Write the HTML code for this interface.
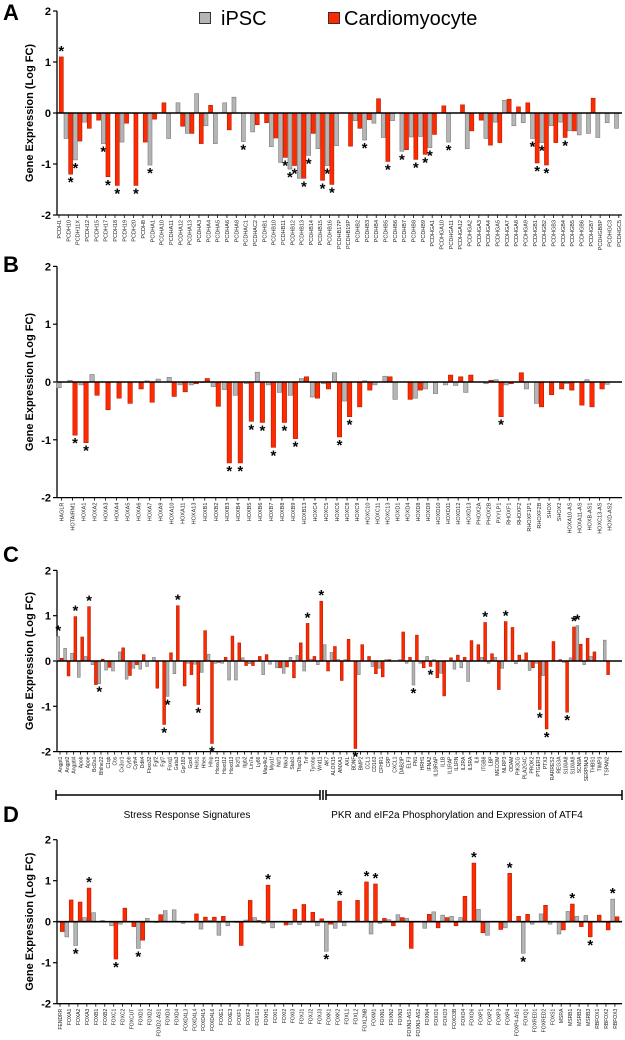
<!DOCTYPE html>
<html><head><meta charset="utf-8"><style>
html,body{margin:0;padding:0;background:#fff;width:625px;height:1040px;overflow:hidden}
svg{display:block;font-family:"Liberation Sans",sans-serif}
</style></head><body>
<svg id="fig" width="625" height="1040" viewBox="0 0 625 1040" xmlns="http://www.w3.org/2000/svg">
<g>
<rect x="199.5" y="12.5" width="11" height="11" fill="#b5b5b5" stroke="#333" stroke-width="1"/>
<text x="221" y="25" font-size="20">iPSC</text>
<rect x="328.5" y="12.5" width="11" height="11" fill="#ff2a00" stroke="#333" stroke-width="1"/>
<text x="344" y="25" font-size="20">Cardiomyocyte</text>
</g>
<g stroke="#000" stroke-width="1.5">
<line x1="56" y1="795" x2="320" y2="795"/><line x1="326" y1="795" x2="622" y2="795"/>
<line x1="56" y1="790" x2="56" y2="800"/><line x1="622" y1="790" x2="622" y2="800"/>
<line x1="320" y1="790" x2="320" y2="800"/><line x1="323" y1="790" x2="323" y2="800"/><line x1="326" y1="790" x2="326" y2="800"/>
</g>
<text x="187" y="818" font-size="10" text-anchor="middle">Stress Response Signatures</text>
<text x="457" y="818" font-size="10" text-anchor="middle">PKR and eIF2a Phosphorylation and Expression of ATF4</text>
</svg>
<script>
// ---------- Panel A ----------
const aCategories=["PCDH1","PCDH10","PCDH11X","PCDH12","PCDH15","PCDH17","PCDH18","PCDH19","PCDH20","PCDH8","PCDHA1","PCDHA10","PCDHA11","PCDHA12","PCDHA13","PCDHA3","PCDHA4","PCDHA5","PCDHA6","PCDHA8","PCDHAC1","PCDHAC2","PCDHB1","PCDHB10","PCDHB11","PCDHB12","PCDHB13","PCDHB14","PCDHB15","PCDHB16","PCDHB17P","PCDHB19P","PCDHB2","PCDHB3","PCDHB4","PCDHB5","PCDHB6","PCDHB7","PCDHB8","PCDHB9","PCDHGA1","PCDHGA10","PCDHGA11","PCDHGA12","PCDHGA2","PCDHGA3","PCDHGA4","PCDHGA5","PCDHGA7","PCDHGA8","PCDHGA9","PCDHGB1","PCDHGB2","PCDHGB3","PCDHGB4","PCDHGB5","PCDHGB6","PCDHGB7","PCDHGB8P","PCDHGC3","PCDHGC5"];
const aIpsc=[0,-0.5,-0.92,-0.18,0,-0.6,0,-0.57,0,0,-1.02,0,-0.5,0.2,-0.4,0.38,-0.25,-0.6,0.2,0.31,-0.56,-0.37,0,-0.66,-0.97,-1.1,-1.28,-0.83,-0.7,-1.03,-0.64,0,-0.15,-0.53,-0.2,-0.48,-0.15,-0.75,-0.47,-0.46,-0.68,0,-0.57,0,-0.7,0,-0.5,-0.18,0.25,-0.25,-0.19,-0.5,-0.58,-0.25,-0.18,-0.35,-0.43,-0.4,-0.48,-0.19,-0.3];
const aCardio=[1.1,-1.2,-0.55,-0.3,-0.14,-1.25,-1.42,-0.2,-1.42,-0.57,-0.12,0.2,0,-0.26,-0.4,-0.6,0.15,0,-0.33,0,0,-0.23,-0.19,-0.49,-0.87,-1.03,-1.28,-0.4,-1.32,-1.4,0,-0.65,-0.3,-0.13,0.28,-0.95,0,-0.72,-0.91,-0.81,-0.42,0.14,0,0.16,-0.35,-0.14,-0.63,-0.58,0.27,0.12,0.2,-0.98,-1.02,-0.58,-0.48,-0.35,0,0.29,0,0,0];
const aIpscStars=[2,5,10,20,25,27,29,33,37,40,42,51,52];
const aCardioStars=[0,1,5,6,8,24,25,26,28,29,35,38,39,51,52,54];
// ---------- Panel B ----------
const bCategories=["HAGLR","HOTAIRM1","HOXA1","HOXA2","HOXA3","HOXA4","HOXA5","HOXA6","HOXA7","HOXA9","HOXA10","HOXA11","HOXA13","HOXB1","HOXB2","HOXB3","HOXB4","HOXB5","HOXB6","HOXB7","HOXB8","HOXB9","HOXB13","HOXC4","HOXC5","HOXC6","HOXC8","HOXC9","HOXC10","HOXC11","HOXC13","HOXD1","HOXD4","HOXD8","HOXD9","HOXD10","HOXD11","HOXD12","HOXD13","PHOX2A","PHOX2B","PXYLP1","RHOXF1","RHOXF2","RHOXF1P1","RHOXF2B","SHOX","SHOX2","HOXA10-AS","HOXA11-AS","HOXB-AS1","HOXC13-AS","HOXD-AS2"];
const bIpsc=[-0.1,0.03,-0.05,0.13,0,0,0,0,0.02,0.05,0.08,-0.05,-0.05,-0.01,-0.08,-0.13,-0.23,-0.03,0.17,-0.05,-0.18,-0.23,0.06,-0.26,-0.03,0.16,-0.33,0,0.02,-0.05,0.1,-0.3,0,-0.28,-0.12,-0.2,-0.05,-0.06,-0.18,0,-0.03,0.04,-0.05,0,-0.12,-0.37,0,0,-0.03,0,0.04,0,-0.04];
const bCardio=[0,-0.92,-1.05,-0.23,-0.48,-0.28,-0.37,-0.12,-0.35,0,-0.25,-0.17,-0.03,0.06,-0.42,-1.4,-1.4,-0.68,-0.7,-1.13,-0.7,-0.98,0.09,-0.28,-0.12,-0.95,-0.6,-0.43,-0.14,0,0.09,0,-0.3,-0.14,0,0,0.12,0.09,0.12,0,0.03,-0.6,-0.03,0.16,0,-0.43,-0.22,-0.12,-0.14,-0.4,-0.43,-0.12,0];
const bIpscStars=[];
const bCardioStars=[1,2,15,16,17,18,19,20,21,25,26,41];
// ---------- Panel C ----------
const cCategories=["Angpt1","Angpt2","Angptl4","Apob","Apoe","Bcl2a1","Bhlhe22","C1qb","Cbs","Cx3cr1","Cybb","Cyth4","Ddit4","Fbxo32","Fgf2","Fgf7","Foxq1","Gata3","Gpr183","Gpx6","Hcls1","Hhex","Hhip","Hoxa13","Hoxd12","Hoxd13","Ikzf1","Itgb2","Lin7a","Ly86","Map4k2","Myo1f","Ncf1","Nkx3","Stab1","Tfap2b","Tnf","Tyrobp","Wnt11","AK7","ALOX15","ANXA1","AXL","BDNF","BMP2","CCL1","CD163","CFHR1","CRP","CXCL1","DAB2IP","ELF3","FN1","HRH1","IFNA2","IL18RAP","IL1B","IL1RAP","IL1RN","IL2RA","IL5RA","IL6","ITGB8","LBP","MECOM","NLRP3","ODAM","PIK3CG","PLA2G4C","PROK2","PTGER3","PTX3","RARRES2","REG3A","S100A8","S100A9","SCN9A","SERPINA3","THBS1","TIMP3","TSPAN2"];
const cIpsc=[0.54,0.28,0.17,-0.36,0.1,-0.08,-0.5,-0.2,-0.22,0.2,-0.4,-0.16,-0.18,-0.12,0.08,0,-0.78,-0.28,0,-0.05,-0.07,-0.25,0.15,-0.05,-0.05,-0.42,-0.42,0.07,-0.06,0,-0.3,-0.07,-0.15,-0.27,0.08,0.12,-0.22,0.04,-0.08,0.36,0.19,0.03,0.03,0,-0.3,0,-0.12,-0.16,0.03,0,0.03,-0.05,-0.53,-0.05,0.1,0.03,-0.27,0,-0.18,-0.15,-0.45,0,0.08,-0.05,0.08,-0.16,0,-0.06,0.03,-0.21,-0.05,-0.32,0,0,-0.03,0.07,0.78,-0.08,0.1,0,0.46];
const cCardio=[0.06,-0.33,0.98,0.53,1.2,-0.52,0.04,-0.14,0,0.29,-0.32,-0.08,0.14,0,-0.6,-1.4,0.18,1.22,-0.55,-0.3,-0.96,0.67,-1.82,-0.03,0.08,0.55,0.4,-0.1,-0.1,0.1,0.14,0,-0.15,-0.13,-0.37,0.4,0.83,0.1,1.32,-0.22,0.32,-0.43,0.48,-1.93,0.36,0.1,-0.28,-0.35,0.03,0,0.64,0.08,0.57,-0.15,-0.12,-0.37,-0.77,0.07,0.13,0.08,0.45,0.36,0.85,0.16,-0.63,0.87,0.74,0.13,0.18,-0.15,-1.07,-1.5,0.43,0.03,-1.13,0.75,0.37,0.5,0.2,0,-0.3];
const cIpscStars=[0,6,16,52,76];
const cCardioStars=[2,4,15,17,20,22,36,38,43,54,62,65,70,71,74,75];
// ---------- Panel D ----------
const dCategories=["FENDRR","FOXA1","FOXA2","FOXA3","FOXB1","FOXB2","FOXC1","FOXC2","FOXCUT","FOXD1","FOXD2","FOXD2-AS1","FOXD3","FOXD4","FOXD4L3","FOXD4L4","FOXD4L5","FOXD4L6","FOXE1","FOXE3","FOXF1","FOXF2","FOXG1","FOXH1","FOXI1","FOXI2","FOXI3","FOXJ1","FOXJ2","FOXJ3","FOXK1","FOXK2","FOXL1","FOXL2","FOXL2NB","FOXM1","FOXN1","FOXN2","FOXN3","FOXN3-AS1","FOXN3-AS2","FOXN4","FOXO1","FOXO3","FOXO3B","FOXO4","FOXO6","FOXP1","FOXP2","FOXP3","FOXP4","FOXP4-AS1","FOXQ1","FOXRED1","FOXRED2","FOXS1","MSRA","MSRB1","MSRB2","MSRB3","RBFOX1","RBFOX2","RBFOX3"];
const dIpsc=[0,-0.37,-0.58,0.1,0.22,0.03,-0.1,-0.06,0,-0.65,0.08,-0.02,0.27,0.29,-0.04,0,-0.18,0.03,-0.33,-0.1,-0.02,0.04,0.1,-0.04,-0.15,0,-0.07,-0.07,0,-0.1,-0.72,-0.16,-0.1,0,0,-0.3,-0.04,0.05,0.17,0.08,0,-0.16,0.24,0.16,0.13,0.1,0,0.3,-0.33,0,-0.15,0,-0.77,-0.06,0.19,-0.06,-0.3,0.25,0.13,0.15,0,0,0.55];
const dCardio=[-0.24,0.53,0.48,0.82,0,0,-0.91,0.33,-0.12,-0.45,0,0.17,0,0,0,0.19,0.11,0.11,0.13,0,-0.58,0.52,0.03,0.89,0,-0.08,0.3,0.42,0.23,0.07,-0.06,0.5,0,0.52,0.97,0.92,0.08,-0.1,0.1,-0.65,0,0.18,-0.15,0.1,-0.1,0.62,1.43,-0.27,0,-0.19,1.18,0.13,0.18,0,0.4,0,-0.2,0.43,-0.12,-0.37,0.16,-0.2,0.12];
const dIpscStars=[2,9,30,52,62];
const dCardioStars=[3,6,23,31,34,35,46,50,57,59];
const yTicks=[2,1,0,-1,-2];

const NS="http://www.w3.org/2000/svg";
const svg=document.getElementById('fig');
function mk(tag,attrs,parent){const e=document.createElementNS(NS,tag);for(const k in attrs)e.setAttribute(k,attrs[k]);(parent||svg).appendChild(e);return e;}

function drawPanel(p){
  const g=mk('g',{});
  
  
  const y=v=>p.zero-v*p.unit;
  const x0=57, x1=622;
  const letter=mk('text',{x:3,y:p.letterY,'font-size':22,'font-weight':'bold'},g);
  letter.textContent=p.id.toUpperCase();
  
  
  const title=mk('text',{x:0,y:0,'font-size':11,'font-weight':'bold','text-anchor':'middle',transform:`translate(33,${p.zero}) rotate(-90)`},g);
  title.textContent='Gene Expression (Log FC)';
  
  
  const yaxis=mk('line',{x1:x0,y1:y(2),x2:x0,y2:y(-2),stroke:'#000','stroke-width':1.3},g);
  
  
  yTicks.forEach(t=>{
    mk('line',{x1:x0-4,y1:y(t),x2:x0,y2:y(t),stroke:'#000','stroke-width':1.2},g);
    const tl=mk('text',{x:x0-6,y:y(t)+4,'font-size':11,'font-weight':'bold','text-anchor':'end'},g);
    tl.textContent=String(t);
    
    
  });
  const xaxis=mk('line',{x1:x0,y1:y(-2),x2:x1,y2:y(-2),stroke:'#000','stroke-width':1.3},g);
  
  
  const bw=p.bw;
  p.cats.forEach((c,i)=>{
    const cx=p.x(i);
    mk('line',{x1:cx,y1:y(-2),x2:cx,y2:y(-2)+3,stroke:'#000','stroke-width':0.8},g);
    const lab=mk('text',{x:0,y:0,'font-size':p.labSize,'text-anchor':'end',fill:'#222',transform:`translate(${cx+2},${y(-2)+5}) rotate(-90)`},g);
    lab.textContent=c;
    
    
    [[p.ipsc[i],-1,'#b5b5b5','#7a7a7a','ipsc',p.ipscStars],[p.cardio[i],1,'#ff2a00','#b81a00','cardiomyocyte',p.cardioStars]].forEach(s=>{
      const v=s[0]; if(!v) return;
      const bx=s[1]<0?cx-bw:cx;
      const top=Math.min(y(v),p.zero), h=Math.abs(y(v)-p.zero);
      const r=mk('rect',{x:bx+0.3,y:top,width:bw-0.6,height:h,fill:s[2],stroke:s[3],'stroke-width':0.6},g);
      
      
      if(s[5].indexOf(i)>=0){
        const st=mk('text',{x:bx+bw/2,y:v<0?y(v)+13:y(v)-1,'font-size':15,'font-weight':'bold','text-anchor':'middle'},g);
        st.textContent='*';
        
        
      }
    });
  });
  const zl=mk('line',{x1:x0,y1:p.zero,x2:x1,y2:p.zero,stroke:'#000','stroke-width':1.6},g);
  
  
}
drawPanel({id:'a',cats:aCategories,ipsc:aIpsc,cardio:aCardio,ipscStars:aIpscStars,cardioStars:aCardioStars,zero:113,unit:51,letterY:20,bw:4.6,labSize:5.5,x:i=>59+i*9.33});
drawPanel({id:'b',cats:bCategories,ipsc:bIpsc,cardio:bCardio,ipscStars:bIpscStars,cardioStars:bCardioStars,zero:382,unit:57.8,letterY:272,bw:5,labSize:5.5,x:i=>i<=25?61.5+i*11.02:337+(i-25)*10.1});
drawPanel({id:'c',cats:cCategories,ipsc:cIpsc,cardio:cCardio,ipscStars:cIpscStars,cardioStars:cCardioStars,zero:661,unit:45.3,letterY:562,bw:3.4,labSize:5,x:i=>60+i*6.83});
drawPanel({id:'d',cats:dCategories,ipsc:dIpsc,cardio:dCardio,ipscStars:dIpscStars,cardioStars:dCardioStars,zero:921.7,unit:41,letterY:822,bw:4.4,labSize:5,x:i=>60+i*8.95});
</script>
</body></html>
